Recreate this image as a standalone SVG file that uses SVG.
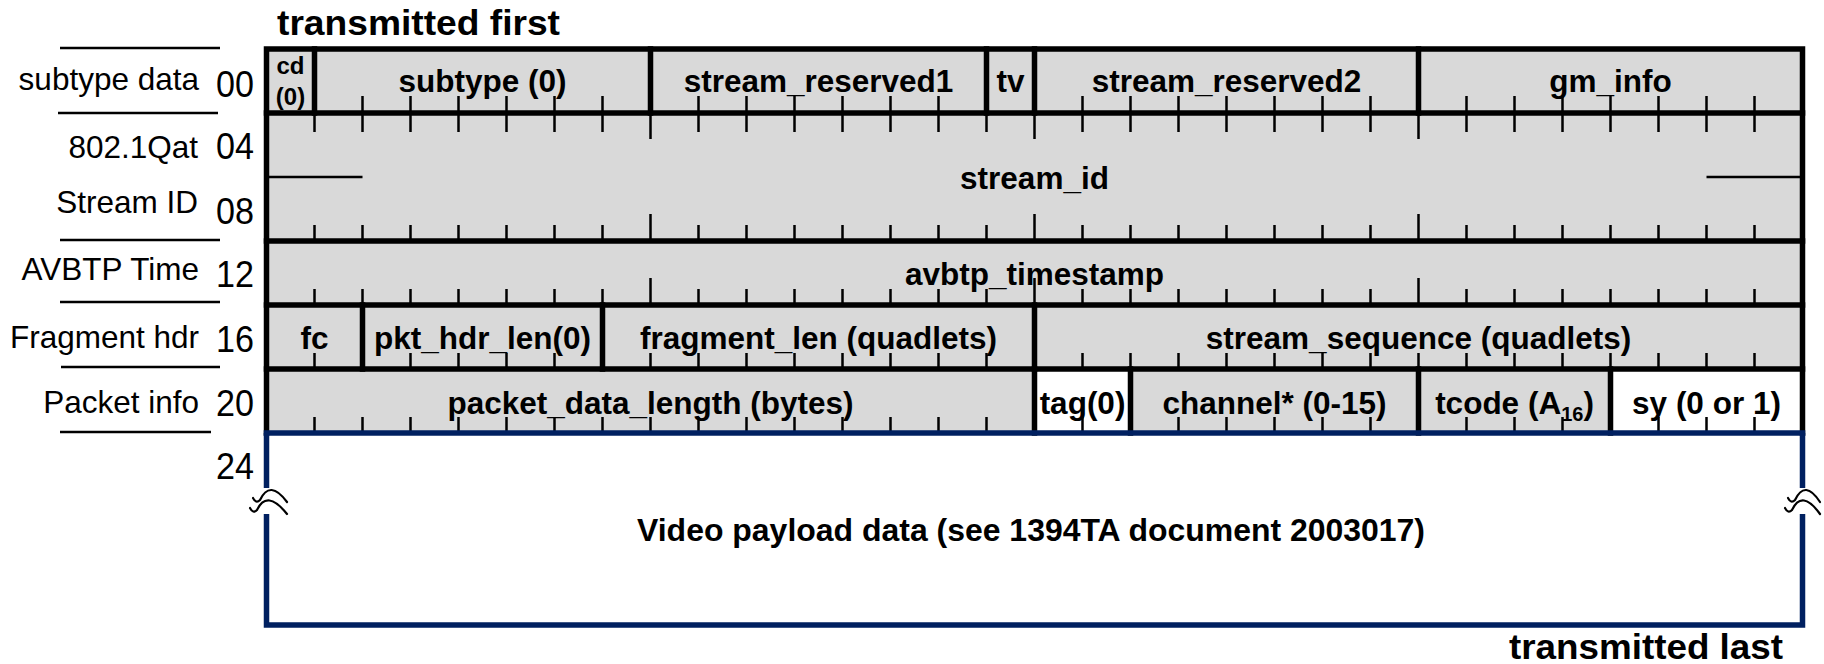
<svg xmlns="http://www.w3.org/2000/svg" width="1824" height="664" viewBox="0 0 1824 664">
<style>
.bg{fill:#ffffff}
.cell{fill:#d9d9d9}
.wcell{fill:#ffffff}
.frame{stroke:#000;stroke-width:5.5;fill:none;stroke-linecap:square}
.navy{stroke:#002060;stroke-width:5.5;fill:none}
.tick{stroke:#000;stroke-width:2.5;fill:none}
.side{stroke:#000;stroke-width:2.5}
.stub{stroke:#000;stroke-width:2.5}
.wave{stroke:#000;stroke-width:2.2;fill:none;stroke-linecap:round}
.lbl{font-family:"Liberation Sans",Arial,sans-serif;font-weight:bold;font-size:31.5px;fill:#000;text-anchor:middle}
.cd{font-family:"Liberation Sans",Arial,sans-serif;font-weight:bold;font-size:24px;fill:#000;text-anchor:middle}
.side-lbl{font-family:"Liberation Sans",Arial,sans-serif;font-size:31.5px;fill:#000;text-anchor:end}
.num{font-family:"Liberation Sans",Arial,sans-serif;font-size:37px;fill:#000}
.title{font-family:"Liberation Sans",Arial,sans-serif;font-weight:bold;font-size:35px;fill:#000}
</style>
<rect class="bg" x="0" y="0" width="1824" height="664"/>

<g id="title-first"><text class="title" x="277" y="35" textLength="283" lengthAdjust="spacingAndGlyphs">transmitted first</text></g>
<g id="title-last"><text class="title" x="1783" y="659" text-anchor="end" textLength="274" lengthAdjust="spacingAndGlyphs">transmitted last</text></g>

<g id="side-labels">
  <line class="side" x1="60" y1="48" x2="220" y2="48"/>
  <line class="side" x1="58" y1="113" x2="218" y2="113"/>
  <line class="side" x1="60" y1="240" x2="220" y2="240"/>
  <line class="side" x1="60" y1="302" x2="220" y2="302"/>
  <line class="side" x1="61" y1="367" x2="220" y2="367"/>
  <line class="side" x1="60" y1="432" x2="211" y2="432"/>
  <text class="side-lbl" x="199" y="90">subtype data</text>
  <text class="side-lbl" x="198" y="158">802.1Qat</text>
  <text class="side-lbl" x="198" y="213">Stream ID</text>
  <text class="side-lbl" x="199" y="280">AVBTP Time</text>
  <text class="side-lbl" x="199" y="348">Fragment hdr</text>
  <text class="side-lbl" x="199" y="413">Packet info</text>
  <text class="num" x="216" y="97" textLength="38" lengthAdjust="spacingAndGlyphs">00</text>
  <text class="num" x="216" y="159" textLength="38" lengthAdjust="spacingAndGlyphs">04</text>
  <text class="num" x="216" y="224" textLength="38" lengthAdjust="spacingAndGlyphs">08</text>
  <text class="num" x="216" y="287" textLength="38" lengthAdjust="spacingAndGlyphs">12</text>
  <text class="num" x="216" y="352" textLength="38" lengthAdjust="spacingAndGlyphs">16</text>
  <text class="num" x="216" y="416" textLength="38" lengthAdjust="spacingAndGlyphs">20</text>
  <text class="num" x="216" y="479" textLength="38" lengthAdjust="spacingAndGlyphs">24</text>
</g>

<g id="row-subtype">
  <rect class="cell" x="266.5" y="49" width="1536" height="64"/>
  <g id="f-cd"><text class="cd" x="290.5" y="74">cd</text><text class="cd" x="290.5" y="105">(0)</text></g>
  <g id="f-subtype"><text class="lbl" x="482.5" y="92">subtype (0)</text></g>
  <g id="f-stream-reserved1"><text class="lbl" x="818.5" y="92">stream_reserved1</text></g>
  <g id="f-tv"><text class="lbl" x="1010.5" y="92">tv</text></g>
  <g id="f-stream-reserved2"><text class="lbl" x="1226.5" y="92">stream_reserved2</text></g>
  <g id="f-gm-info"><text class="lbl" x="1610.5" y="92">gm_info</text></g>
</g>

<g id="row-stream-id">
  <rect class="cell" x="266.5" y="113" width="1536" height="128"/>
  <line class="stub" x1="269" y1="177" x2="362.5" y2="177"/>
  <line class="stub" x1="1706.5" y1="177" x2="1800" y2="177"/>
  <text class="lbl" x="1034.5" y="189">stream_id</text>
</g>

<g id="row-avbtp">
  <rect class="cell" x="266.5" y="241" width="1536" height="64"/>
  <text class="lbl" x="1034.5" y="285">avbtp_timestamp</text>
</g>

<g id="row-fragment">
  <rect class="cell" x="266.5" y="305" width="1536" height="64"/>
  <g id="f-fc"><text class="lbl" x="314.5" y="349">fc</text></g>
  <g id="f-pkt-hdr-len"><text class="lbl" x="482.5" y="349">pkt_hdr_len(0)</text></g>
  <g id="f-fragment-len"><text class="lbl" x="818.5" y="349">fragment_len (quadlets)</text></g>
  <g id="f-stream-sequence"><text class="lbl" x="1418.5" y="349">stream_sequence (quadlets)</text></g>
</g>

<g id="row-packet">
  <rect class="cell" x="266.5" y="369" width="1536" height="64"/>
  <rect class="wcell" x="1034.5" y="369" width="96" height="64"/>
  <rect class="wcell" x="1610.5" y="369" width="192" height="64"/>
  <g id="f-packet-data-length"><text class="lbl" x="650.5" y="414">packet_data_length (bytes)</text></g>
  <g id="f-tag"><text class="lbl" x="1082.5" y="414">tag(0)</text></g>
  <g id="f-channel"><text class="lbl" x="1274.5" y="414">channel* (0-15)</text></g>
  <g id="f-tcode"><text class="lbl" x="1514.5" y="414">tcode (A<tspan font-size="20" dy="7">16</tspan><tspan dy="-7">)</tspan></text></g>
  <g id="f-sy"><text class="lbl" x="1706.5" y="414">sy (0 or 1)</text></g>
</g>

<g id="payload">
  <text class="lbl" x="1031" y="541" textLength="788" lengthAdjust="spacingAndGlyphs">Video payload data (see 1394TA document 2003017)</text>
</g>

<g id="ticks">
  <path class="tick" d="M362.5 113V96M410.5 113V96M458.5 113V96M506.5 113V96M554.5 113V96M602.5 113V96M698.5 113V96M746.5 113V96M794.5 113V96M842.5 113V96M890.5 113V96M938.5 113V96M1082.5 113V96M1130.5 113V96M1178.5 113V96M1226.5 113V96M1274.5 113V96M1322.5 113V96M1370.5 113V96M1466.5 113V96M1514.5 113V96M1562.5 113V96M1610.5 113V96M1658.5 113V96M1706.5 113V96M1754.5 113V96"/>
  <path class="tick" d="M314.5 113V132M362.5 113V132M410.5 113V132M458.5 113V132M506.5 113V132M554.5 113V132M602.5 113V132M650.5 113V139M698.5 113V132M746.5 113V132M794.5 113V132M842.5 113V132M890.5 113V132M938.5 113V132M986.5 113V132M1034.5 113V139M1082.5 113V132M1130.5 113V132M1178.5 113V132M1226.5 113V132M1274.5 113V132M1322.5 113V132M1370.5 113V132M1418.5 113V139M1466.5 113V132M1514.5 113V132M1562.5 113V132M1610.5 113V132M1658.5 113V132M1706.5 113V132M1754.5 113V132"/>
  <path class="tick" d="M314.5 241V225M362.5 241V225M410.5 241V225M458.5 241V225M506.5 241V225M554.5 241V225M602.5 241V225M650.5 241V214M698.5 241V225M746.5 241V225M794.5 241V225M842.5 241V225M890.5 241V225M938.5 241V225M986.5 241V225M1034.5 241V214M1082.5 241V225M1130.5 241V225M1178.5 241V225M1226.5 241V225M1274.5 241V225M1322.5 241V225M1370.5 241V225M1418.5 241V214M1466.5 241V225M1514.5 241V225M1562.5 241V225M1610.5 241V225M1658.5 241V225M1706.5 241V225M1754.5 241V225"/>
  <path class="tick" d="M314.5 305V289M362.5 305V289M410.5 305V289M458.5 305V289M506.5 305V289M554.5 305V289M602.5 305V289M650.5 305V278M698.5 305V289M746.5 305V289M794.5 305V289M842.5 305V289M890.5 305V289M938.5 305V289M986.5 305V289M1034.5 305V278M1082.5 305V289M1130.5 305V289M1178.5 305V289M1226.5 305V289M1274.5 305V289M1322.5 305V289M1370.5 305V289M1418.5 305V278M1466.5 305V289M1514.5 305V289M1562.5 305V289M1610.5 305V289M1658.5 305V289M1706.5 305V289M1754.5 305V289"/>
  <path class="tick" d="M314.5 369V353M410.5 369V353M458.5 369V353M506.5 369V353M554.5 369V353M650.5 369V353M698.5 369V353M746.5 369V353M794.5 369V353M842.5 369V353M890.5 369V353M938.5 369V353M986.5 369V353M1082.5 369V353M1130.5 369V353M1178.5 369V353M1226.5 369V353M1274.5 369V353M1322.5 369V353M1370.5 369V353M1418.5 369V353M1466.5 369V353M1514.5 369V353M1562.5 369V353M1610.5 369V353M1658.5 369V353M1706.5 369V353M1754.5 369V353"/>
  <path class="tick" d="M314.5 433V417M362.5 433V417M410.5 433V417M458.5 433V417M506.5 433V417M554.5 433V417M602.5 433V417M650.5 433V417M698.5 433V417M746.5 433V417M794.5 433V417M842.5 433V417M890.5 433V417M938.5 433V417M986.5 433V417M1082.5 433V417M1178.5 433V417M1226.5 433V417M1274.5 433V417M1322.5 433V417M1370.5 433V417M1466.5 433V417M1514.5 433V417M1562.5 433V417M1658.5 433V417M1706.5 433V417M1754.5 433V417"/>
</g>

<g id="borders">
  <path class="frame" d="M266.5 433V49H1802.5V433"/>
  <path class="frame" d="M266.5 113H1802.5M266.5 241H1802.5M266.5 305H1802.5M266.5 369H1802.5"/>
  <path class="frame" d="M314.5 49V113M650.5 49V113M986.5 49V113M1034.5 49V113M1418.5 49V113"/>
  <path class="frame" d="M362.5 305V369M602.5 305V369M1034.5 305V369"/>
  <path class="frame" d="M1034.5 369V433M1130.5 369V433M1418.5 369V433M1610.5 369V433"/>
  <path class="navy" d="M263.75 433H1805.25"/>
  <path class="navy" d="M266.5 433V488M266.5 514V625H1802.5V514M1802.5 488V433"/>
</g>

<g id="breaks">
  <path class="wave" d="M253 498 Q256 504 260 500 Q270 479 287 502"/>
  <path class="wave" d="M250 508 Q253 514 257 510 Q267 489 287 514"/>
  <path class="wave" d="M1788 498 Q1791 504 1795 500 Q1805 479 1820 502"/>
  <path class="wave" d="M1785 508 Q1788 514 1792 510 Q1802 489 1820 514"/>
</g>
</svg>
